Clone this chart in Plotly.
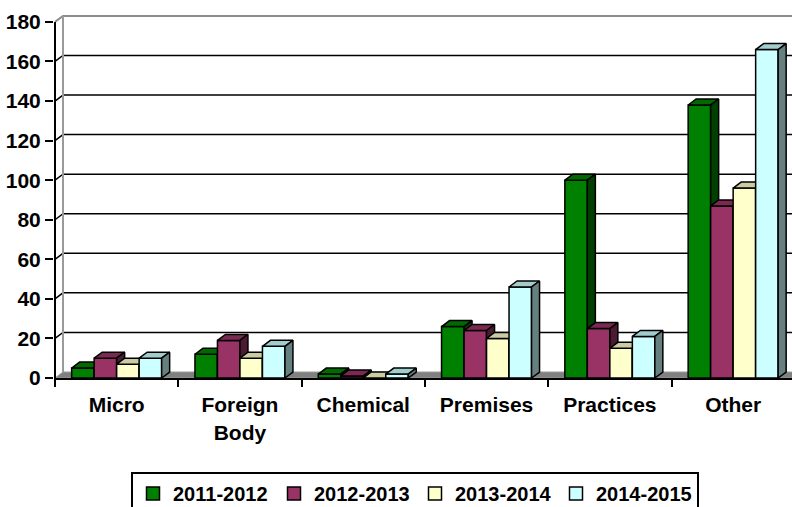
import plotly.graph_objects as go

# Complaint categories and yearly counts
categories = ["Micro", "Foreign<br>Body", "Chemical", "Premises", "Practices", "Other"]
years = ["2011-2012", "2012-2013", "2013-2014", "2014-2015"]
v_2011 = [5, 12, 2, 26, 100, 138]
v_2012 = [10, 19, 1, 24, 25, 87]
v_2013 = [7, 10, 0, 20, 15, 96]
v_2014 = [10, 16, 2, 46, 21, 166]
series = [v_2011, v_2012, v_2013, v_2014]

y_ticks = list(range(0, 181, 20))

# Face colours: front, top, side
front_cols = ["#008000", "#993366", "#FFFFCC", "#CCFFFF"]
top_cols = ["#006A00", "#7A2952", "#CCCCA3", "#A3CCCC"]
side_cols = ["#004000", "#4D1A33", "#808066", "#668080"]

FONT = "Liberation Sans, Arial, sans-serif"
FS = 21

# Pseudo-3D geometry (in axis units)
W, H = 792, 507
ML, MR, MT, MB = 54, 0, 12, 129
YMAX = 185
cat_px = 123.3
px_per_unit = (H - MT - MB) / YMAX
DX = 8 / cat_px          # depth shift to the right
DY = 6 / px_per_unit     # depth shift upward
bar_w = 0.1825
group_w = bar_w * len(series)
x0 = -0.5 - 1 / cat_px
x1 = x0 + (W - ML - MR) / cat_px

fig = go.Figure()

def poly(pts_list):
    xs, ys = [], []
    for pts in pts_list:
        for (px, py) in pts:
            xs.append(px)
            ys.append(py)
        xs.append(pts[0][0])
        ys.append(pts[0][1])
        xs.append(None)
        ys.append(None)
    return xs, ys

for s, vals in enumerate(series):
    fronts, tops, sides = [], [], []
    for k, v in enumerate(vals):
        L = k - group_w / 2 + s * bar_w
        R = L + bar_w
        fronts.append([(L, 0), (L, v), (R, v), (R, 0)])
        tops.append([(L, v), (L + DX, v + DY), (R + DX, v + DY), (R, v)])
        sides.append([(R, 0), (R, v), (R + DX, v + DY), (R + DX, DY)])
    for faces, col in ((fronts, front_cols[s]), (tops, top_cols[s]), (sides, side_cols[s])):
        xs, ys = poly(faces)
        fig.add_trace(go.Scatter(
            x=xs, y=ys, mode="lines", fill="toself", fillcolor=col,
            line=dict(color="black", width=1.5), showlegend=False,
            hoverinfo="skip"))

# Legend entries
for s, name in enumerate(years):
    fig.add_trace(go.Scatter(
        x=[None], y=[None], mode="markers", name=name,
        marker=dict(symbol="square", size=13, color=front_cols[s],
                    line=dict(color="black", width=1.5))))

shapes = []
# Floor
shapes.append(dict(
    type="path", xref="x", yref="y", layer="below",
    path=f"M {-0.5},0 L {x1 + 1},0 L {x1 + 1},{DY} L {-0.5 + DX},{DY} Z",
    fillcolor="#808080", line=dict(color="#9a9a9a", width=1)))
# Back-wall gridlines with their connectors to the front axis
for v in y_ticks[1:]:
    top = v == y_ticks[-1]
    shapes.append(dict(
        type="path", xref="x", yref="y", layer="below",
        path=f"M {-0.5},{v} L {-0.5 + DX},{v + DY} L {x1 + 1},{v + DY}",
        line=dict(color="#8c8c8c" if top else "black", width=2 if top else 1.5)))
# Back wall left edge
shapes.append(dict(
    type="line", xref="x", yref="y", layer="below",
    x0=-0.5 + DX, x1=-0.5 + DX, y0=DY, y1=y_ticks[-1] + DY,
    line=dict(color="#9a9a9a", width=2)))
# Front value axis
shapes.append(dict(
    type="line", xref="x", yref="y", layer="above",
    x0=-0.5, x1=-0.5, y0=0, y1=y_ticks[-1],
    line=dict(color="black", width=2)))

bold = dict(family=FONT, size=FS, color="black", weight="bold")

fig.update_layout(
    width=W, height=H,
    margin=dict(l=ML, r=MR, t=MT, b=MB),
    paper_bgcolor="white", plot_bgcolor="white",
    shapes=shapes,
    font=bold,
    showlegend=True,
    legend=dict(
        orientation="h", xref="container", yref="container",
        x=131 / W, y=1 - 472 / H, xanchor="left", yanchor="top",
        bordercolor="black", borderwidth=2, bgcolor="white",
        entrywidth=96, entrywidthmode="pixels",
        font=dict(family=FONT, size=20, color="black", weight="bold"),
        itemclick=False, itemdoubleclick=False),
    xaxis=dict(
        range=[x0, x1], showgrid=False, zeroline=False,
        showline=True, linecolor="black", linewidth=2,
        tickmode="array", tickvals=list(range(len(categories))),
        ticktext=categories, ticks="", ticklabelstandoff=7,
        tickfont=bold,
        minor=dict(tickmode="array",
                   tickvals=[k - 0.5 for k in range(len(categories) + 1)],
                   ticks="outside", ticklen=7, tickwidth=2, tickcolor="black"),
        fixedrange=True),
    yaxis=dict(
        range=[0, YMAX], showgrid=False, zeroline=False, showline=False,
        tickmode="array", tickvals=y_ticks, ticks="outside", ticklen=8,
        tickwidth=2, tickcolor="black", tickfont=bold,
        fixedrange=True),
)

fig.write_html("out.html")
